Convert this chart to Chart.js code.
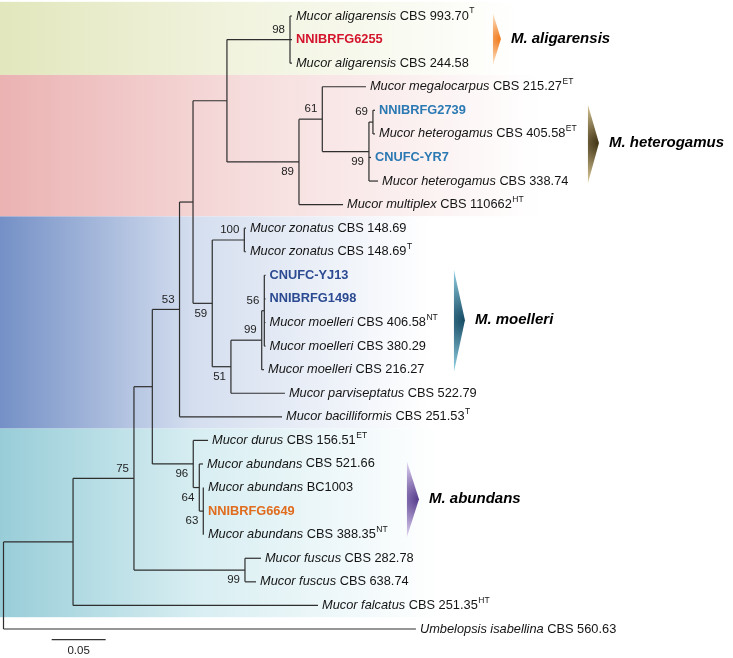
<!DOCTYPE html>
<html>
<head>
<meta charset="utf-8">
<script src="https://cdn.jsdelivr.net/npm/chart.js@4.4.0/dist/chart.umd.min.js"></script>
<style>
  html, body { margin: 0; padding: 0; background: #fff; }
  #wrap { width: 733px; height: 658px; }
  canvas { display: block; }
</style>
</head>
<body>
<div id="wrap"><canvas id="tree" width="733" height="658"></canvas></div>
<script>
// Tips, listed top to bottom (row = index)
const tipSpecies = [
  "Mucor aligarensis", "", "Mucor aligarensis", "Mucor megalocarpus", "", "Mucor heterogamus", "", "Mucor heterogamus", "Mucor multiplex",
  "Mucor zonatus", "Mucor zonatus", "", "", "Mucor moelleri", "Mucor moelleri", "Mucor moelleri", "Mucor parviseptatus", "Mucor bacilliformis",
  "Mucor durus", "Mucor abundans", "Mucor abundans", "", "Mucor abundans", "Mucor fuscus", "Mucor fuscus", "Mucor falcatus", "Umbelopsis isabellina"
]
const tipStrain = [
  "CBS 993.70", "NNIBRFG6255", "CBS 244.58", "CBS 215.27", "NNIBRFG2739", "CBS 405.58", "CNUFC-YR7", "CBS 338.74", "CBS 110662",
  "CBS 148.69", "CBS 148.69", "CNUFC-YJ13", "NNIBRFG1498", "CBS 406.58", "CBS 380.29", "CBS 216.27", "CBS 522.79", "CBS 251.53",
  "CBS 156.51", "CBS 521.66", "BC1003", "NNIBRFG6649", "CBS 388.35", "CBS 282.78", "CBS 638.74", "CBS 251.35", "CBS 560.63"
]
const tipTypeMark = ["T", "", "", "ET", "", "ET", "", "", "HT", "", "T", "", "", "NT", "", "", "", "T", "ET", "", "", "", "NT", "", "", "HT", ""]
const tipParent = [
  "n98", "n98", "n98", "n61", "n69", "n69", "n99a", "n99a", "n89",
  "n100", "n100", "n56", "n56", "n56", "n56", "n99b", "n51", "n53",
  "n96", "n64", "n63", "n63", "n63", "n99c", "n99c", "ingroup", "root"
]
// distance from root (substitutions/site)
const tipDepth = [
  0.2671, 0.2671, 0.2671, 0.3356, 0.3440, 0.3440, 0.3403, 0.3468, 0.3144,
  0.2245, 0.2245, 0.2426, 0.2426, 0.2426, 0.2426, 0.2412, 0.2606, 0.2579,
  0.1894, 0.1847, 0.1856, 0.1856, 0.1856, 0.2384, 0.2338, 0.2912, 0.3819
]

// Internal nodes
const nodeIds = ["root", "ingroup", "n75", "n152", "n53", "nU", "nAH", "n98", "n89", "n61", "n99a", "n69", "n59", "n100", "n51", "n99b", "n56", "n96", "n64", "n63", "n99c"]
const nodeParent = [null, "root", "ingroup", "n75", "n152", "n53", "nU", "nAH", "nAH", "n89", "n61", "n99a", "nU", "n59", "n59", "n51", "n99b", "n152", "n96", "n64", "n75"]
const nodeDepth = [0, 0.0644, 0.1208, 0.1378, 0.1630, 0.1755, 0.2069, 0.2653, 0.2736, 0.2952, 0.3384, 0.3421, 0.1933, 0.2230, 0.2106, 0.2391, 0.2415, 0.1757, 0.1813, 0.1850, 0.2236]
const nodeSupport = ["", "", "75", "", "53", "", "", "98", "89", "61", "99", "69", "59", "100", "51", "99", "56", "96", "64", "63", "99"]

// Clades
const cladeNames = ["M. aligarensis", "M. heterogamus", "M. moelleri", "M. abundans"]
const cladeRows = [[-0.13, 2.08], [3.78, 7.08], [10.77, 15.1], [18.9, 22.1]]

const scaleBarLength = 0.05

// ---- styling ----
const supportBelow = ["n89", "n99a", "n59", "n51", "n96", "n64", "n63", "n99c"]
const highlight = {
  "NNIBRFG6255": "#d4142c",
  "NNIBRFG2739": "#2a79b3",
  "CNUFC-YR7": "#2a79b3",
  "CNUFC-YJ13": "#2c4a92",
  "NNIBRFG1498": "#2c4a92",
  "NNIBRFG6649": "#e06c1e"
}
const bands = [
  { from: -0.6, to: 2.5, c0: "#e2e7bd", c1: "#f1f3de", end: 520 },
  { from: 2.5, to: 8.5, c0: "#ebb2b2", c1: "#f6dcdc", end: 540 },
  { from: 8.5, to: 17.5, c0: "#7490c6", c1: "#d4deef", end: 430 },
  { from: 17.5, to: 25.5, c0: "#98cdd8", c1: "#d8eef2", end: 440 }
]
const arrows = [
  { x: 0.4532, w: 8, apex: 0.98, dark: "#f07818", light: "#fde6cc" },
  { x: 0.5412, w: 11, apex: 5.39, dark: "#3e3112", light: "#d6c594" },
  { x: 0.4171, w: 11, apex: 12.9, dark: "#154a63", light: "#93d0e3" },
  { x: 0.3736, w: 12, apex: 20.5, dark: "#553a8c", light: "#dcd0ef" }
]
const FONT = "'Liberation Sans', Arial, sans-serif"

// ---- build tree geometry ----
const rowOf = {}
const depthOf = {}
nodeIds.forEach((id, i) => { depthOf[id] = nodeDepth[i] })

function childrenOf(id) {
  const kids = []
  tipParent.forEach((p, i) => { if (p === id) kids.push({ tip: i }) })
  nodeParent.forEach((p, i) => { if (p === id) kids.push({ node: nodeIds[i] }) })
  return kids
}
function rowFor(id) {
  if (rowOf[id] !== undefined) return rowOf[id]
  const ys = childrenOf(id).map((k) => (k.tip !== undefined ? k.tip : rowFor(k.node)))
  rowOf[id] = (Math.min(...ys) + Math.max(...ys)) / 2
  return rowOf[id]
}
nodeIds.forEach(rowFor)

const lineStyle = { showLine: true, borderColor: "#2e2e2e", borderWidth: 1.2, pointRadius: 0, fill: false }
const datasets = []
// horizontal branches
tipParent.forEach((p, i) => {
  datasets.push({ ...lineStyle, data: [{ x: depthOf[p], y: i }, { x: tipDepth[i], y: i }] })
})
nodeIds.forEach((id, i) => {
  const p = nodeParent[i]
  if (!p) return
  datasets.push({ ...lineStyle, data: [{ x: depthOf[p], y: rowOf[id] }, { x: nodeDepth[i], y: rowOf[id] }] })
})
// vertical connectors
nodeIds.forEach((id, i) => {
  const ys = childrenOf(id).map((k) => (k.tip !== undefined ? k.tip : rowOf[k.node]))
  datasets.push({ ...lineStyle, data: [{ x: nodeDepth[i], y: Math.min(...ys) }, { x: nodeDepth[i], y: Math.max(...ys) }] })
})
// scale bar
const barRow = 26.45
datasets.push({ ...lineStyle, borderColor: "#333", data: [{ x: 0.0446, y: barRow }, { x: 0.0446 + scaleBarLength, y: barRow }] })

// ---- plugins ----
const bandPlugin = {
  id: "bands",
  beforeDatasetsDraw(chart) {
    const { ctx, scales } = chart
    bands.forEach((b) => {
      const y0 = scales.y.getPixelForValue(b.from)
      const y1 = scales.y.getPixelForValue(b.to)
      const g = ctx.createLinearGradient(0, 0, b.end, 0)
      g.addColorStop(0, b.c0)
      g.addColorStop(0.45, b.c1)
      g.addColorStop(1, "rgba(255,255,255,1)")
      ctx.fillStyle = g
      ctx.fillRect(0, y0, chart.width, y1 - y0)
    })
  }
}

const labelPlugin = {
  id: "labels",
  afterDatasetsDraw(chart) {
    const { ctx, scales } = chart
    const X = (v) => scales.x.getPixelForValue(v)
    const Y = (v) => scales.y.getPixelForValue(v)
    ctx.save()
    ctx.textBaseline = "middle"

    // tip labels
    tipStrain.forEach((strain, i) => {
      let cx = X(tipDepth[i]) + 4
      const cy = Y(i)
      ctx.textAlign = "left"
      if (!tipSpecies[i]) {
        ctx.font = "bold 12.8px " + FONT
        ctx.fillStyle = highlight[strain] || "#111"
        ctx.fillText(strain, cx, cy)
        return
      }
      ctx.fillStyle = "#141414"
      ctx.font = "italic 12.8px " + FONT
      ctx.fillText(tipSpecies[i], cx, cy)
      cx += ctx.measureText(tipSpecies[i] + " ").width
      ctx.font = "12.8px " + FONT
      ctx.fillText(strain, cx, cy)
      cx += ctx.measureText(strain).width
      if (tipTypeMark[i]) {
        ctx.font = "8.5px " + FONT
        ctx.fillText(tipTypeMark[i], cx + 0.5, cy - 5)
      }
    })

    // support values
    ctx.font = "11.5px " + FONT
    ctx.fillStyle = "#222"
    ctx.textAlign = "right"
    nodeIds.forEach((id, i) => {
      if (!nodeSupport[i]) return
      const dy = supportBelow.includes(id) ? 10 : -10
      ctx.fillText(nodeSupport[i], X(nodeDepth[i]) - 5, Y(rowOf[id]) + dy)
    })

    // clade arrows and names
    arrows.forEach((a, k) => {
      const left = X(a.x)
      const top = Y(cladeRows[k][0])
      const bot = Y(cladeRows[k][1])
      const ay = Y(a.apex)
      const ax = left + a.w
      const g = ctx.createRadialGradient(ax, ay, 0, ax, ay, (bot - top) / 2)
      g.addColorStop(0, a.dark)
      g.addColorStop(1, a.light)
      ctx.beginPath()
      ctx.moveTo(left, top)
      ctx.lineTo(ax, ay)
      ctx.lineTo(left, bot)
      ctx.closePath()
      ctx.fillStyle = g
      ctx.fill()

      ctx.font = "italic bold 15px " + FONT
      ctx.fillStyle = "#000"
      ctx.textAlign = "left"
      ctx.fillText(cladeNames[k], ax + 10, ay)
    })

    // scale bar label
    ctx.font = "11.5px " + FONT
    ctx.fillStyle = "#222"
    ctx.textAlign = "center"
    ctx.fillText(String(scaleBarLength), X(0.0446 + scaleBarLength / 2), Y(barRow) + 11)
    ctx.restore()
  }
}

new Chart(document.getElementById("tree"), {
  type: "scatter",
  data: { datasets },
  options: {
    responsive: false,
    animation: false,
    layout: { padding: 0 },
    plugins: { legend: { display: false }, tooltip: { enabled: false } },
    scales: {
      x: { type: "linear", display: false, min: -0.00324, max: 0.6755 },
      y: { type: "linear", display: false, reverse: true, min: -0.6786, max: 27.23 }
    }
  },
  plugins: [bandPlugin, labelPlugin]
})
</script>
</body>
</html>
